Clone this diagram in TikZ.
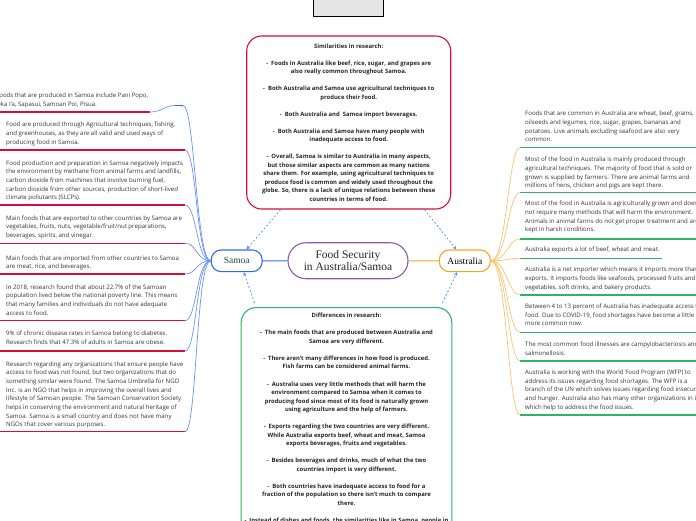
\documentclass[tikz,border=0pt]{standalone}
\usepackage{fontspec}
\setmainfont{Open Sans}
\newfontfamily\slabfont{Liberation Serif}
\usetikzlibrary{positioning}
\definecolor{rulered}{HTML}{D0103A}
\definecolor{linkblue}{HTML}{6A93F7}
\definecolor{samoablue}{HTML}{2F6BEA}
\definecolor{linkorange}{HTML}{FBC26E}
\definecolor{ausorange}{HTML}{F6A623}
\definecolor{rulegreen}{HTML}{2DB466}
\definecolor{topicpurple}{HTML}{8B5BA6}
\definecolor{dashblue}{HTML}{4A90E2}
\definecolor{samoatext}{HTML}{1E4B3B}
\definecolor{bodygray}{HTML}{333333}
\tikzset{
  itemtext/.style={anchor=north west,inner sep=0,align=left,text=bodygray,font=\fontsize{6.1}{8.65}\selectfont},
  redrule/.style={rulered,line width=1.5pt},
  greenrule/.style={rulegreen,line width=1.5pt},
  bluelink/.style={linkblue,line width=0.7pt},
  orangelink/.style={linkorange,line width=0.7pt},
  boxtext/.style={align=center,text=black!85,font=\bfseries\fontsize{5.9}{8.52}\selectfont},
  dashlink/.style={dashblue,dashed,dash pattern=on 2pt off 2pt,line width=0.7pt,->},
  country/.style={draw,line width=1.1pt,rounded corners=10pt,minimum width=51pt,minimum height=21.7pt,inner sep=1pt,font=\slabfont\fontsize{9.5}{11}\selectfont}
}
\newcommand{\sitem}[4]{% name, first line y, rule y, text   (Samoa side)
  \node[itemtext] (#1) at (6,#2-3) {#4};
  \coordinate (#1a) at (0,#3); \coordinate (#1b) at (185,#3);
  \draw[redrule] (#1a) -- (#1b);
  \draw[bluelink] (samoa.west) .. controls (196,260.7) and (197,#3) .. (#1b);}
\newcommand{\aitem}[5]{% name, first line y, rule y, rule end x, text   (Australia side)
  \node[itemtext] (#1) at (525,#2-3) {#5};
  \coordinate (#1a) at (520,#3); \coordinate (#1b) at (#4,#3);
  \draw[greenrule] (#1a) -- (#1b);
  \draw[orangelink] (australia.east) .. controls (507,260.7) and (508,#3) .. (#1a);}

\begin{document}
\begin{tikzpicture}[x=1pt,y=-1pt,>=stealth]
  \useasboundingbox (0,0) rectangle (696,520);
  \clip (0,0) rectangle (696,520);
  \node[draw=black,fill=black!10,line width=0.9pt,minimum width=70pt,minimum height=24pt] (titlebox) at (348.3,4.7) {};
  % central topic and the two countries
  \node[draw=topicpurple,line width=1.1pt,rounded corners=18pt,minimum width=120pt,minimum height=36pt,align=center,
        text=black!85,font=\slabfont\fontsize{11.5}{12.4}\selectfont] (topic) at (348,260.7) {Food Security\\in Australia/Samoa};
  \node[country,draw=samoablue,text=samoatext] (samoa) at (236.7,260.8) {Samoa};
  \node[country,draw=ausorange,text=black] (australia) at (464.8,260.8) {Australia};
  \draw[samoablue,line width=1pt] (topic) -- (samoa);
  \draw[ausorange,line width=1pt] (topic) -- (australia);
  % similarities
  \node[draw=rulered,line width=1.1pt,rounded corners=15pt,minimum width=204pt,minimum height=173pt,boxtext] (simbox) at (348.7,122.5)
    {Similarities in research:\\[8.52pt]
     -\enspace Foods in Australia like beef, rice, sugar, and grapes are\\also really common throughout Samoa.\\[8.52pt]
     -\enspace Both Australia and Samoa use agricultural techniques to\\produce their food.\\[8.52pt]
     -\enspace Both Australia and\enspace Samoa import beverages.\\[8.52pt]
     -\enspace Both Australia and Samoa have many people with\\inadequate access to food.\\[8.52pt]
     -\enspace Overall, Samoa is similar to Australia in many aspects,\\but those similar aspects are common as many nations\\
     share them. For example, using agricultural techniques to\\produce food is common and widely used throughout the\\
     globe. So, there is a lack of unique relations between these\\countries in terms of food.};
  % differences
  \node[draw=rulegreen,line width=1.1pt,rounded corners=15pt,minimum width=203pt,inner ysep=5.8pt,anchor=north,boxtext] (diffbox) at (346.5,307)
    {Differences in research:\\[8.52pt]
     -\enspace The main foods that are produced between Australia and\\Samoa are very different.\\[8.52pt]
     -\enspace There aren't many differences in how food is produced.\\Fish farms can be considered animal farms.\\[8.52pt]
     -\enspace Australia uses very little methods that will harm the\\environment compared to Samoa when it comes to\\
     producing food since most of its food is naturally grown\\using agriculture and the help of farmers.\\[8.52pt]
     -\enspace Exports regarding the two countries are very different.\\While Australia exports beef, wheat and meat, Samoa\\
     exports beverages, fruits and vegetables.\\[8.52pt]
     -\enspace Besides beverages and drinks, much of what the two\\countries import is very different.\\[8.52pt]
     -\enspace Both countries have inadequate access to food for a\\fraction of the population so there isn't much to compare\\there.\\[8.52pt]
     -\enspace Instead of dishes and foods, the similarities like in Samoa, people in\\\mbox{}\\\mbox{}\\\mbox{}};
  \draw[dashlink] (simbox.232) -- (samoa.49);
  \draw[dashlink] (simbox.311) -- (australia.127);
  \draw[dashlink] ([xshift=14pt,yshift=4pt]diffbox.north west) -- (samoa.302);
  \draw[dashlink] ([xshift=-10pt,yshift=4pt]diffbox.north east) -- (australia.236);
  % Samoa side
  \node[itemtext] (s1) at (-4,95.7-3) {Foods that are produced in Samoa include Pani Popo,\\Oka I'a, Sapasui, Samoan Poi, Pisua.};
  \coordinate (s1a) at (0,112); \coordinate (s1b) at (150,112);
  \coordinate (s1c) at (175,105.5); \coordinate (s1d) at (183,105.5);
  \draw[redrule] (s1a) -- (s1b);
  \draw[bluelink] (samoa.west) .. controls (196,260.7) and (195,105.5) .. (s1d);
  \draw[samoablue,line width=1.5pt] (s1c) -- (s1d);
  \draw[bluelink] (s1c) .. controls (164,105.5) and (162,112) .. (s1b);
  \sitem{s2}{125}{150}{Food are produced through Agricultural techniques, fishing,\\and greenhouses, as they are all valid and used ways of\\producing food in Samoa.}
  \sitem{s3}{163.3}{205}{Food production and preparation in Samoa negatively impacts\\the environment by methane from animal farms and landfills,\\carbon dioxide from machines that involve burning fuel,\\carbon dioxide from other sources, production of short-lived\\climate pollutants (SLCPs).}
  \sitem{s4}{218.3}{243.3}{Main foods that are exported to other countries by Samoa are\\vegetables, fruits, nuts, vegetable/fruit/nut preparations,\\beverages, spirits, and vinegar.}
  \sitem{s5}{258.3}{274}{Main foods that are imported from other countries to Samoa\\are meat, rice, and beverages.}
  \sitem{s6}{287.3}{320.7}{In 2018, research found that about 22.7\% of the Samoan\\population lived below the national poverty line. This means\\that many families and individuals do not have adequate\\access to food.}
  \sitem{s7}{334}{351}{9\% of chronic disease rates in Samoa belong to diabetes.\\Research finds that 47.3\% of adults in Samoa are obese.}
  \sitem{s8}{364.3}{431.7}{Research regarding any organizations that ensure people have\\access to food was not found, but two organizations that do\\something similar were found. The Samoa Umbrella for NGO\\Inc. is an NGO that helps in improving the overall lives and\\lifestyle of Samoan people. The Samoan Conservation Society\\helps in conserving the environment and natural heritage of\\Samoa. Samoa is a small country and does not have many\\NGOs that cover various purposes.}
  % Australia side
  \aitem{a1}{114}{147.7}{696}{Foods that are common in Australia are wheat, beef, grains,\\oilseeds and legumes, rice, sugar, grapes, bananas and\\potatoes. Live animals excluding seafood are also very\\common.}
  \aitem{a2}{160}{192.7}{696}{Most of the food in Australia is mainly produced through\\agricultural techniques. The majority of food that is sold or\\grown is supplied by farmers. There are animal farms and\\millions of hens, chicken and pigs are kept there.}
  \aitem{a3}{204}{239}{696}{Most of the food in Australia is agriculturally grown and does\\not require many methods that will harm the environment.\\Animals in animal farms do not get proper treatment and are\\kept in harsh conditions.}
  \aitem{a4}{250}{258.3}{661.7}{Australia exports a lot of beef, wheat and meat.}
  \aitem{a5}{270}{295}{696}{Australia is a net importer which means it imports more than\\exports. It imports foods like seafoods, processed fruits and\\vegetables, soft drinks, and bakery products.}
  \aitem{a6}{306.7}{332.3}{696}{Between 4 to 13 percent of Australia has inadequate access to\\food. Due to COVID-19, food shortages have become a little\\more common now.}
  \aitem{a7}{345}{361}{696}{The most common food illnesses are campylobacteriosis and\\salmonellosis.}
  \aitem{a8}{372.7}{415}{696}{Australia is working with the World Food Program (WFP) to\\address its issues regarding food shortages. The WFP is a\\branch of the UN which solves issues regarding food insecurity\\and hunger. Australia also has many other organizations in it\\which help to address the food issues.}
\end{tikzpicture}
\end{document}
